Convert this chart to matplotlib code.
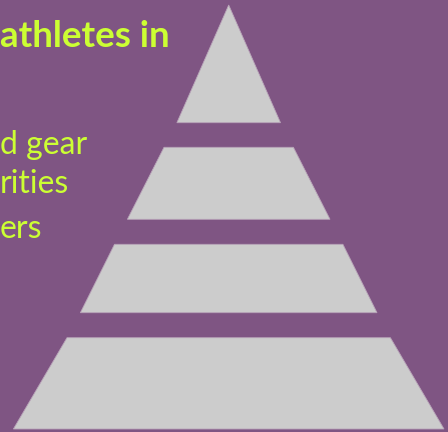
import matplotlib
matplotlib.use("Agg")
import matplotlib.pyplot as plt

# Pyramid levels (pixel units, top to bottom): top y, bottom y, half widths
level_top = [5, 147.3, 244.3, 337.7]
level_bottom = [122.7, 219.3, 312.7, 429]
half_top = [0, 64.7, 114.2, 161.7]
half_bottom = [51.8, 101.3, 148.3, 215.3]
center_x = 228.7

# Visible pieces of the slide text (cut off at the left edge)
labels = ["athletes in", "d gear", "rities", "ers"]
label_left = [0, 0, 0, 0]
label_base = [46.7, 154.3, 193.3, 237.7]
label_size = [26.5, 23, 23, 23]
label_weight = ["bold", "normal", "normal", "normal"]

bg = "#7f5583"
grey = "#cccccc"
lime = "#ccff33"

fig = plt.figure(figsize=(4.48, 4.32), dpi=100, facecolor=bg)
ax = fig.add_axes([0, 0, 1, 1])
ax.set_facecolor(bg)
ax.set_xlim(0, 448)
ax.set_ylim(432, 0)
ax.axis("off")

for t, b, ht, hb in zip(level_top, level_bottom, half_top, half_bottom):
    xs = [center_x - ht, center_x + ht, center_x + hb, center_x - hb]
    ys = [t, t, b, b]
    ax.fill(xs, ys, color=grey, ec="#b8a3b8", lw=0.6)

for txt, xl, yb, sz, wt in zip(labels, label_left, label_base, label_size, label_weight):
    ax.text(xl, yb, txt, ha="left", va="baseline", color=lime,
            fontsize=sz, family="Lato", fontweight=wt)

fig.savefig("out.png", dpi=100, facecolor=bg)
